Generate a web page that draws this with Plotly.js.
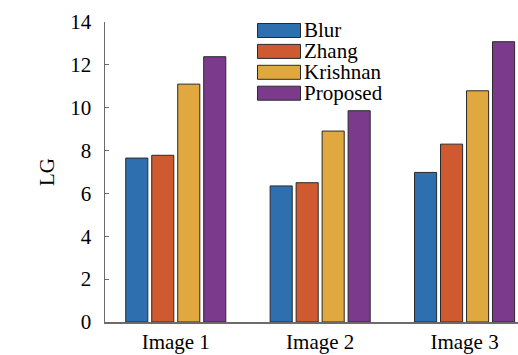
<!DOCTYPE html>
<html>
<head>
<meta charset="utf-8">
<script src="https://cdn.plot.ly/plotly-3.0.1.min.js"></script>
<style>html,body{margin:0;padding:0;background:#fff;}#chart{width:518px;height:355px;}</style>
</head>
<body>
<div id="chart"></div>
<script>
const categories = ["Image 1", "Image 2", "Image 3"];
const seriesNames = ["Blur", "Zhang", "Krishnan", "Proposed"];
const blur = [7.65, 6.35, 6.98];
const zhang = [7.78, 6.50, 8.30];
const krishnan = [11.10, 8.91, 10.79];
const proposed = [12.38, 9.86, 13.08];
const yTicks = [0, 2, 4, 6, 8, 10, 12, 14];

const seriesValues = [blur, zhang, krishnan, proposed];
const colors = ["#2e6fb0", "#cf5a2f", "#e0a83e", "#7b3a8c"];
const FONT = "Liberation Serif";

const traces = seriesNames.map((name, i) => ({
  type: "bar",
  name: name,
  x: categories,
  y: seriesValues[i],
  marker: { color: colors[i], line: { color: "#2a2a2a", width: 1 } },
  showlegend: false,
  hoverinfo: "none"
}));

// manual legend (wide swatches like the reference)
const plotL = 105, plotW = 413, plotT = 22, plotH = 300;
const px2x = p => (p - plotL) / plotW;
const py2y = p => (plotT + plotH - p) / plotH;
const shapes = [];
const annotations = [];
seriesNames.forEach((name, i) => {
  const top = 23.5 + 20.9 * i, bot = top + 14;
  shapes.push({
    type: "rect", xref: "paper", yref: "paper",
    x0: px2x(257.5), x1: px2x(300.5), y0: py2y(bot), y1: py2y(top),
    fillcolor: colors[i], line: { color: "#2a2a2a", width: 1 }
  });
  annotations.push({
    xref: "paper", yref: "paper", x: px2x(302), y: py2y((top + bot) / 2),
    xanchor: "left", yanchor: "middle", showarrow: false,
    text: name, font: { family: FONT, size: 21, color: "#000" }
  });
});

const layout = {
  width: 518, height: 355,
  margin: { l: 105, r: 0, t: 22, b: 33, pad: 0 },
  paper_bgcolor: "#fff", plot_bgcolor: "#fff",
  barmode: "group", bargap: 0.28, bargroupgap: 0.15,
  font: { family: FONT, size: 21, color: "#000" },
  xaxis: {
    range: [-0.49, 2.37], showgrid: false, zeroline: false,
    showline: true, linecolor: "#6b6b6b", linewidth: 1.5,
    ticks: "", ticklabelstandoff: 0,
    tickfont: { family: FONT, size: 21, color: "#000" }
  },
  yaxis: {
    range: [0, 14], tickvals: yTicks, ticktext: yTicks.map(String),
    showgrid: false, zeroline: false,
    showline: true, linecolor: "#6b6b6b", linewidth: 1.5,
    ticks: "inside", ticklen: 4, tickcolor: "#6b6b6b", tickwidth: 1.2,
    ticklabelstandoff: 8,
    tickfont: { family: FONT, size: 21, color: "#000" },
    title: { text: "LG", font: { family: FONT, size: 21, color: "#000" }, standoff: 10 }
  },
  shapes: shapes,
  annotations: annotations,
  showlegend: false
};

Plotly.newPlot("chart", traces, layout, { displayModeBar: false, staticPlot: true });
</script>
</body>
</html>
